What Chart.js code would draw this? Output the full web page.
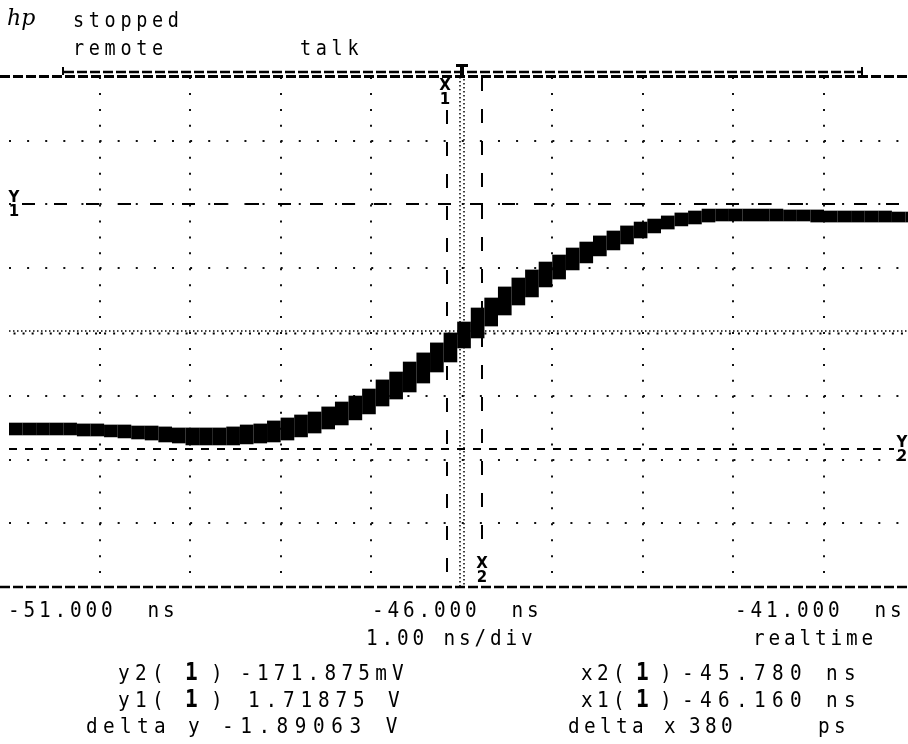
<!DOCTYPE html>
<html>
<head>
<meta charset="utf-8">
<script src="https://cdn.jsdelivr.net/npm/chart.js@4.4.0/dist/chart.umd.min.js"></script>
<style>
  html, body { margin: 0; padding: 0; background: #fff; }
  canvas { display: block; }
</style>
</head>
<body>
<canvas id="scope" width="908" height="744"></canvas>
<script>
// Sample times (ns) of the persistence blocks
const times = [
  -50.925, -50.775, -50.625, -50.475, -50.325, -50.175, -50.025, -49.875, -49.725, -49.575,
  -49.425, -49.275, -49.125, -48.975, -48.825, -48.675, -48.525, -48.375, -48.225, -48.075,
  -47.925, -47.775, -47.625, -47.475, -47.325, -47.175, -47.025, -46.875, -46.725, -46.575,
  -46.425, -46.275, -46.125, -45.975, -45.825, -45.675, -45.525, -45.375, -45.225, -45.075,
  -44.925, -44.775, -44.625, -44.475, -44.325, -44.175, -44.025, -43.875, -43.725, -43.575,
  -43.425, -43.275, -43.125, -42.975, -42.825, -42.675, -42.525, -42.375, -42.225, -42.075,
  -41.925, -41.775, -41.625, -41.475, -41.325, -41.175, -41.025
];
// Top and bottom of the trace band at each time (V)
const traceHigh = [
  0.032, 0.032, 0.032, 0.032, 0.032, 0.025, 0.025, 0.017, 0.017, 0.009,
  0.009, 0.002, -0.006, -0.006, -0.006, -0.006, 0.002, 0.017, 0.025, 0.048,
  0.071, 0.094, 0.117, 0.156, 0.194, 0.240, 0.294, 0.364, 0.425, 0.502,
  0.572, 0.649, 0.726, 0.810, 0.918, 0.995, 1.080, 1.149, 1.211, 1.272,
  1.326, 1.380, 1.426, 1.473, 1.511, 1.550, 1.580, 1.603, 1.627, 1.650,
  1.665, 1.680, 1.680, 1.680, 1.680, 1.680, 1.680, 1.673, 1.673, 1.673,
  1.665, 1.665, 1.665, 1.665, 1.665, 1.657, 1.657
];
const traceLow = [
  -0.060, -0.060, -0.060, -0.060, -0.060, -0.068, -0.068, -0.075, -0.083, -0.091,
  -0.099, -0.114, -0.122, -0.137, -0.137, -0.137, -0.137, -0.129, -0.122, -0.114,
  -0.099, -0.075, -0.045, -0.014, 0.017, 0.056, 0.102, 0.163, 0.217, 0.271,
  0.340, 0.425, 0.502, 0.610, 0.687, 0.779, 0.864, 0.941, 1.003, 1.080,
  1.141, 1.211, 1.265, 1.319, 1.365, 1.411, 1.457, 1.496, 1.526, 1.550,
  1.565, 1.580, 1.588, 1.588, 1.588, 1.588, 1.588, 1.588, 1.588, 1.580,
  1.580, 1.580, 1.580, 1.580, 1.580, 1.580, 1.580
];

// Cursors: x1, x2 (ns) and y1, y2 (V)
const cursorX = [-46.160, -45.780];
const cursorY = [1.71875, -0.171875];

// Graticule
const timeRange = [-51.0, -41.072];
const voltRange = [-1.231, 2.697];
const gridTimes = [-50, -49, -48, -47, -45, -44, -43, -42];
const gridVolts = [2.206, 1.715, 1.224, 0.242, -0.249, -0.740];
const centerTime = -46;
const centerVolt = 0.733;

// Screen texts: [text, x, baseline, advance, size]
const headerText = [['stopped', 73, 27, 15.8, 21], ['remote', 73, 55, 15.8, 21], ['talk', 300, 55, 15.8, 21]];
const scaleText = [
  ['-51.000  ns', 8, 617, 15.5, 22], ['-46.000  ns', 372, 617, 15.5, 22], ['-41.000  ns', 735, 617, 15.5, 22],
  ['1.00 ns/div', 366, 645, 15.5, 22], ['realtime', 753, 645, 15.5, 22]
];
const readoutText = [
  ['y2(', 118, 680, 17, 22], ['^1', 185, 680, 17, 22], [')', 211, 680, 17, 22], ['-171.875mV', 240, 680, 16.9, 22],
  ['x2(', 581, 680, 16, 22], ['^1', 636, 680, 16, 22], [')', 660, 680, 16, 22], ['-45.780 ns', 682, 680, 18, 22],
  ['y1(', 118, 707, 17, 22], ['^1', 185, 707, 17, 22], [')', 211, 707, 17, 22], ['1.71875 V', 248, 707, 17.5, 22],
  ['x1(', 581, 707, 16, 22], ['^1', 636, 707, 16, 22], [')', 660, 707, 16, 22], ['-46.160 ns', 682, 707, 18, 22],
  ['delta y', 86, 733, 17, 22], ['-1.89063 V', 222, 733, 18.2, 22],
  ['delta x', 568, 733, 16, 22], ['380', 689, 733, 16, 22], ['ps', 818, 733, 16, 22]
];

const MONO = '"DejaVu Sans Mono", "Liberation Mono", monospace';

// draw fixed-pitch text, '^' makes the next char bold
function monoText(ctx, str, x, y, adv, size) {
  let col = 0, bold = false;
  for (const ch of str) {
    if (ch === '^') { bold = true; continue; }
    ctx.save();
    ctx.font = bold ? 'bold ' + (size + 2) + 'px ' + MONO : size + 'px ' + MONO;
    ctx.translate(x + col * adv, y);
    ctx.scale(0.88, 1);
    ctx.fillText(ch, 0, 0);
    ctx.restore();
    col++;
    bold = false;
  }
}

function cursorLabel(ctx, letter, digit, x, top) {
  ctx.font = 'bold 15px "DejaVu Sans", sans-serif';
  ctx.textAlign = 'center';
  ctx.fillText(letter, x, top + 11);
  ctx.fillText(digit, x, top + 25);
  ctx.textAlign = 'left';
}

function dashed(ctx, dash, width, x1, y1, x2, y2) {
  ctx.setLineDash(dash);
  ctx.lineWidth = width;
  ctx.beginPath();
  ctx.moveTo(x1, y1);
  ctx.lineTo(x2, y2);
  ctx.stroke();
}

const scopePlugin = {
  id: 'scope',
  beforeDatasetsDraw(chart) {
    const { ctx, chartArea: a, scales: { x, y } } = chart;
    ctx.save();
    ctx.strokeStyle = '#111';
    const stepX = Math.abs(x.getPixelForValue(gridTimes[1]) - x.getPixelForValue(gridTimes[0])) / 5;
    const stepY = Math.abs(y.getPixelForValue(gridVolts[1]) - y.getPixelForValue(gridVolts[0])) / 4;

    // dotted graticule
    gridTimes.forEach(t => {
      const px = Math.round(x.getPixelForValue(t));
      dashed(ctx, [2, stepY - 2], 2, px, a.top, px, a.bottom);
    });
    gridVolts.forEach(v => {
      const py = Math.round(y.getPixelForValue(v));
      dashed(ctx, [2, stepX - 2], 2, a.left, py, a.right, py);
    });

    // dense centre axes
    ctx.strokeStyle = '#000';
    const cx = Math.round(x.getPixelForValue(centerTime));
    const cy = Math.round(y.getPixelForValue(centerVolt));
    dashed(ctx, [1.5, 2.5], 1.5, cx - 2, a.top, cx - 2, a.bottom);
    dashed(ctx, [1.5, 2.5], 1.5, cx + 2, a.top + 2, cx + 2, a.bottom);
    dashed(ctx, [1.5, 2.5], 1.5, a.left, cy - 1, a.right, cy - 1);
    dashed(ctx, [2, stepX / 2 - 2], 2, a.left + stepX / 4, cy + 1.5, a.right, cy + 1.5);

    // frame lines
    dashed(ctx, [10, 3], 3, 0, a.top - 0.5, chart.width, a.top - 0.5);
    dashed(ctx, [10, 3], 2.5, 64, a.top - 5, 862, a.top - 5);
    dashed(ctx, [], 2, 63, a.top - 10, 63, a.top - 2);
    dashed(ctx, [], 2, 862, a.top - 10, 862, a.top - 2);
    dashed(ctx, [10, 3], 2.5, 0, a.bottom, chart.width, a.bottom);
    ctx.fillStyle = '#000';
    ctx.fillRect(cx - 6, a.top - 13, 12, 3);
    ctx.fillRect(cx - 2, a.top - 13, 4, 13);
    ctx.restore();
  },
  afterDatasetsDraw(chart) {
    const { ctx, chartArea: a, scales: { x, y } } = chart;
    ctx.save();
    ctx.strokeStyle = '#000';
    ctx.fillStyle = '#000';

    const x1 = Math.round(x.getPixelForValue(cursorX[0]));
    const x2 = Math.round(x.getPixelForValue(cursorX[1]));
    const y1 = Math.round(y.getPixelForValue(cursorY[0]));
    const y2 = Math.round(y.getPixelForValue(cursorY[1]));
    dashed(ctx, [14, 18], 2, x1, a.top + 33, x1, a.bottom);
    dashed(ctx, [14, 18], 2, x2, a.top, x2, a.bottom - 33);
    dashed(ctx, [13, 19], 2, a.left + 13, y1, a.right, y1);
    dashed(ctx, [8, 8], 2, a.left, y2, a.right - 14, y2);
    ctx.setLineDash([]);

    cursorLabel(ctx, 'X', '1', x1 - 2, a.top + 2);
    cursorLabel(ctx, 'X', '2', x2, a.bottom - 30);
    cursorLabel(ctx, 'Y', '1', 14, y1 - 13);
    cursorLabel(ctx, 'Y', '2', 902, y2 - 13);

    // hp logo
    ctx.font = 'italic 22px "DejaVu Serif", serif';
    ctx.fillText('hp', 7, 25);

    headerText.concat(scaleText, readoutText)
      .forEach(([s, tx, ty, adv, size]) => monoText(ctx, s, tx, ty, adv, size));
    ctx.restore();
  }
};

new Chart(document.getElementById('scope'), {
  type: 'bar',
  data: {
    datasets: [{
      data: times.map((t, i) => ({ x: t, y: [traceLow[i], traceHigh[i]] })),
      backgroundColor: '#000',
      borderWidth: 0,
      barThickness: 13
    }]
  },
  options: {
    responsive: false,
    animation: false,
    devicePixelRatio: 1,
    layout: { padding: { left: 9, right: 0, top: 77, bottom: 157 } },
    plugins: { legend: { display: false }, tooltip: { enabled: false } },
    scales: {
      x: {
        type: 'linear',
        offset: false,
        min: timeRange[0],
        max: timeRange[1],
        ticks: { display: false },
        grid: { display: false, drawTicks: false, offset: false },
        border: { display: false }
      },
      y: {
        type: 'linear',
        min: voltRange[0],
        max: voltRange[1],
        ticks: { display: false },
        grid: { display: false, drawTicks: false },
        border: { display: false }
      }
    }
  },
  plugins: [scopePlugin]
});
</script>
</body>
</html>
